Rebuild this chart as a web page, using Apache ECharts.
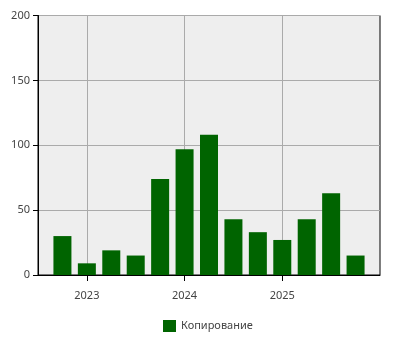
<!DOCTYPE html>
<html><head><meta charset="utf-8">
<script src="https://cdn.jsdelivr.net/npm/echarts@6/dist/echarts.min.js"></script>
<style>html,body{margin:0;padding:0;background:#fff}#c{width:400px;height:350px}</style>
</head><body><div id="c"></div>
<script>
const categories = ['2022 Q3','2022 Q4','2023 Q1','2023 Q2','2023 Q3','2023 Q4','2024 Q1','2024 Q2','2024 Q3','2024 Q4','2025 Q1','2025 Q2','2025 Q3','2025 Q4','2026 Q1'];
const values = [null, 30, 9, 19, 15, 74, 97, 108, 43, 33, 27, 43, 63, 15, null];
const tickLabels = ['', '', '2023', '', '', '', '2024', '', '', '', '2025', '', '', '', ''];
const yTicks = [0, 50, 100, 150, 200];
const seriesName = 'Копирование';

const font = 'Noto Sans';
const showTick = (i) => tickLabels[i] !== '';
const chart = echarts.init(document.getElementById('c'), null, {renderer: 'canvas'});
chart.setOption({
  animation: false,
  grid: {left: 38, right: 20, top: 15.5, bottom: 75, show: true, backgroundColor: '#eeeeee', borderColor: '#000', borderWidth: 1},
  legend: {
    top: 315, left: 158, itemWidth: 13, itemHeight: 12, itemGap: 5,
    icon: 'rect',
    textStyle: {fontFamily: font, fontSize: 11, color: '#444'},
    data: [seriesName]
  },
  xAxis: {
    type: 'category', data: categories, boundaryGap: false,
    axisLine: {lineStyle: {color: '#000', width: 1}},
    axisTick: {show: true, length: 6, interval: (i) => showTick(i), lineStyle: {color: '#000'}},
    axisLabel: {interval: (i) => showTick(i), formatter: (v, i) => tickLabels[i], fontFamily: font, fontSize: 11, color: '#444', margin: 15},
    splitLine: {show: true, interval: (i) => showTick(i), lineStyle: {color: '#aaaaaa', width: 1}}
  },
  yAxis: {
    type: 'value', min: yTicks[0], max: yTicks[yTicks.length - 1], interval: 50,
    axisLine: {show: true, lineStyle: {color: '#000'}},
    axisTick: {show: true, length: 5, lineStyle: {color: '#000'}},
    axisLabel: {fontFamily: font, fontSize: 11, color: '#444', margin: 8},
    splitLine: {show: true, lineStyle: {color: '#aaaaaa', width: 1}}
  },
  series: [{
    name: seriesName, type: 'bar', data: values, barWidth: 18,
    itemStyle: {color: '#006400'}
  }]
});
</script></body></html>
